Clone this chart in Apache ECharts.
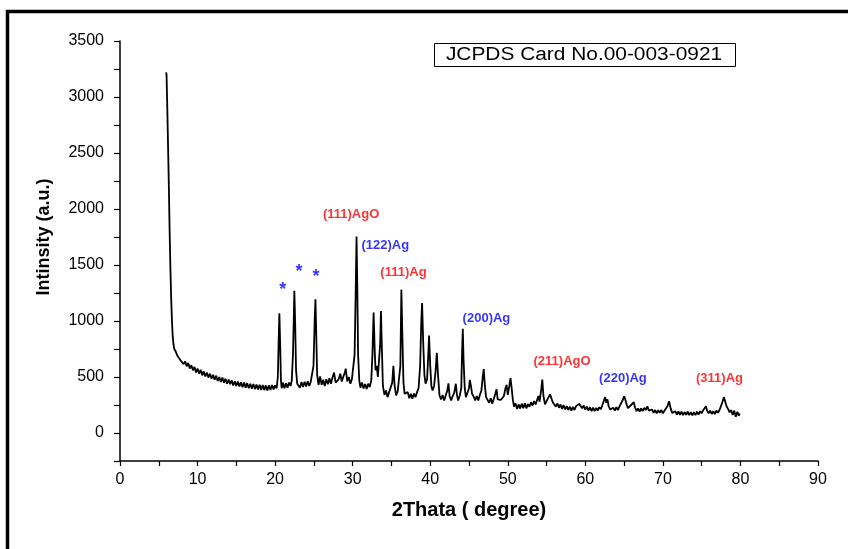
<!DOCTYPE html>
<html>
<head>
<meta charset="utf-8">
<script src="https://cdn.jsdelivr.net/npm/echarts@6/dist/echarts.min.js"></script>
<style>
  html, body { margin: 0; padding: 0; background: #ffffff; }
  #chart { width: 848px; height: 549px; }
</style>
</head>
<body>
<div id="chart"></div>
<script>
// ---- data: XRD scan (2theta in degrees, intensity in a.u.) ----
const scanLow = [
  [5.95,3220],[6.0,3200],[6.1,2900],[6.2,2550],[6.3,2200],[6.4,1800],[6.5,1470],[6.6,1200],
  [6.7,1000],[6.8,860],[6.9,790],[7.0,750],[7.2,725],[7.4,690],[7.6,690],[7.8,650],[8.0,665],
  [8.2,615],[8.4,640],[8.6,595],[8.8,625],[9.0,575],[9.2,605],[9.4,560],[9.6,590],[9.8,540],
  [10.0,575],[10.2,530],[10.4,565],[10.6,515],[10.8,550],[11.0,505],[11.2,540],[11.4,495],
  [11.6,530],[11.8,485],[12.0,520],[12.2,475],[12.4,512],[12.6,465],[12.8,500],[13.0,455],
  [13.2,495],[13.4,448],[13.6,485],[13.8,440],[14.0,478],[14.2,435],[14.4,470],[14.6,425],
  [14.8,462],[15.0,420],[15.2,460],[15.4,415],[15.6,452],[15.8,408],[16.0,450],[16.2,405],
  [16.4,445],[16.6,400],[16.8,440],[17.0,395],[17.2,438],[17.4,392],[17.6,432],[17.8,388],
  [18.0,430],[18.2,385],[18.4,428],[18.6,383],[18.8,425],[19.0,380],[19.2,425],[19.4,385],
  [19.6,428],[19.8,390],[20.0,425],[20.2,400]
];
const scanMid = [
  [20.35,500],[20.45,800],[20.55,1070],[20.65,800],[20.75,470],[20.85,400],[21.0,450],
  [21.2,400],[21.4,445],[21.6,405],[21.8,450],[22.0,420],[22.15,470],[22.3,700],[22.4,1000],
  [22.48,1270],[22.58,1000],[22.7,560],[22.85,440],[23.0,455],[23.2,405],[23.4,455],[23.6,410],
  [23.8,458],[24.0,415],[24.2,462],[24.4,420],[24.6,458],[24.8,470],[24.95,600],[25.1,1000],
  [25.2,1195],[25.3,900],[25.42,520],[25.6,430],[25.8,505],[26.0,430],[26.2,475],[26.4,420],
  [26.6,480],[26.8,435],[27.0,490],[27.2,440],[27.4,495],[27.6,540],[27.8,450],[28.0,465],
  [28.2,480],[28.4,530],[28.6,460],[28.8,505],[29.0,540],[29.1,575],[29.3,460],[29.5,500],
  [29.7,440],[29.9,480],[30.1,480],[30.25,700],[30.4,1300],[30.5,1755],[30.6,1300],[30.7,700],
  [30.85,470],[31.0,405],[31.2,450],[31.4,398],[31.6,438],[31.8,392],[32.0,440],[32.2,410],
  [32.4,470],[32.55,700],[32.7,1075],[32.85,720],[32.95,560],[33.1,600],[33.25,500],[33.4,500],
  [33.55,800],[33.65,1090],[33.75,800],[33.9,420],[34.1,340],[34.3,380],[34.5,320],[34.7,365],
  [34.9,380],[35.1,450],[35.25,600],[35.4,430],[35.6,335],[35.8,370],[36.0,380],[36.15,600],
  [36.28,1280],[36.4,900],[36.55,450],[36.7,350],[36.9,348],[37.1,365],[37.3,310],[37.5,350],
  [37.7,305],[37.9,352],[38.1,320],[38.3,365],[38.5,400],[38.7,600],[38.85,1000],[38.95,1160],
  [39.1,800],[39.25,520],[39.4,440],[39.6,480],[39.75,700],[39.85,870],[40.0,600],[40.15,420],
  [40.3,380],[40.5,420],[40.7,560],[40.85,715],[41.0,520],[41.2,335],[41.4,300],[41.6,340],
  [41.8,290],[42.0,335],[42.2,380],[42.35,444],[42.5,330],[42.7,290],[42.9,330],[43.1,360],
  [43.3,440],[43.45,340],[43.6,290],[43.8,330],[44.0,400],[44.1,700],[44.2,930],[44.3,650],
  [44.45,400],[44.6,320],[44.8,360],[45.0,400],[45.1,475],[45.25,420],[45.4,350],[45.6,325],
  [45.8,290],[46.0,330],[46.2,290],[46.4,340],[46.6,380],[46.8,520],[46.9,570],[47.05,420],
  [47.2,320],[47.4,305],[47.6,270],[47.8,310],[48.0,262],[48.2,305],[48.4,350],[48.55,390],
  [48.7,300],[48.9,285],[49.1,295],[49.3,280],[49.5,330],[49.7,400],[49.85,430],[50.0,340],
  [50.2,420],[50.35,490],[50.5,400],[50.65,300]
];
const scanHigh = [
  [50.8,235],[51.0,265],[51.2,215],[51.4,255],[51.6,218],[51.8,262],[52.0,222],[52.2,265],
  [52.4,220],[52.6,258],[52.8,235],[53.0,275],[53.2,245],[53.4,285],[53.6,255],[53.8,300],
  [53.95,330],[54.1,280],[54.3,380],[54.45,477],[54.6,330],[54.8,255],[55.0,285],[55.2,300],
  [55.45,345],[55.6,330],[55.8,275],[56.0,275],[56.2,235],[56.4,265],[56.6,225],[56.8,255],
  [57.0,215],[57.2,250],[57.4,210],[57.6,240],[57.8,205],[58.0,235],[58.2,200],[58.4,232],
  [58.6,205],[58.8,240],[59.0,230],[59.2,260],[59.4,250],[59.6,220],[59.8,245],[60.0,208],
  [60.2,236],[60.4,200],[60.6,230],[60.8,195],[61.0,226],[61.2,195],[61.4,224],[61.6,200],
  [61.8,230],[62.0,212],[62.2,250],[62.4,290],[62.55,320],[62.7,270],[62.85,300],[63.0,240],
  [63.2,210],[63.4,195],[63.6,225],[63.8,200],[64.0,230],[64.2,205],[64.4,238],[64.6,240],
  [64.8,290],[65.0,328],[65.15,300],[65.3,260],[65.5,222],[65.7,218],[65.9,250],[66.1,265],
  [66.25,275],[66.4,230],[66.6,195],[66.8,220],[67.0,190],[67.2,220],[67.4,195],[67.6,225],
  [67.8,205],[68.0,238],[68.2,200],[68.4,185],[68.6,210],[68.8,180],[69.0,205],[69.2,175],
  [69.4,203],[69.6,180],[69.8,205],[70.0,176],[70.2,198],[70.4,200],[70.6,240],[70.8,283],
  [71.0,220],[71.2,178],[71.4,168],[71.6,195],[71.8,165],[72.0,192],[72.2,163],[72.4,190],
  [72.6,160],[72.8,187],[73.0,163],[73.2,190],[73.4,160],[73.6,185],[73.8,158],[74.0,185],
  [74.2,160],[74.4,190],[74.6,165],[74.8,195],[75.0,176],[75.2,204],[75.4,220],[75.55,238],
  [75.7,200],[75.9,176],[76.1,200],[76.3,170],[76.5,195],[76.7,168],[76.9,200],[77.1,180],
  [77.3,205],[77.5,220],[77.7,280],[77.85,320],[78.0,290],[78.2,240],[78.4,215],[78.6,185],
  [78.8,205],[79.0,160],[79.2,200],[79.4,145],[79.6,190],[79.8,155],[79.9,175]
];

// peak annotations: text, anchor 2theta, anchor intensity, colour group
const peakLabelText  = ['(111)AgO','(122)Ag','(111)Ag','(200)Ag','(211)AgO','(220)Ag','(311)Ag'];
const peakLabelTheta = [29.8, 34.2, 36.55, 47.25, 57.0, 64.85, 77.3];
const peakLabelInt   = [1950, 1673, 1435, 1024, 641, 489, 489];
const peakLabelGroup = ['red','blue','red','blue','red','blue','red'];

// impurity markers (*)
const starTheta = [21.0, 23.08, 25.27];
const starInt   = [1274, 1435, 1390];

const xTicksLabelled = [0,10,20,30,40,50,60,70,80,90];
const yTicksLabelled = [0,500,1000,1500,2000,2500,3000,3500];
const legendText = 'JCPDS Card No.00-003-0921';

// ---- styles ----
const groupColor = { red: '#ff0000', blue: '#0000ff' };
const FONT = "'Liberation Sans', Arial, sans-serif";

const chart = echarts.init(document.getElementById('chart'), null, { renderer: 'canvas' });

const scan = scanLow.concat(scanMid, scanHigh);

const labelData = peakLabelText.map((t, i) => ({
  name: t,
  value: [peakLabelTheta[i], peakLabelInt[i]],
  label: { color: groupColor[peakLabelGroup[i]] }
}));
const starData = starTheta.map((t, i) => ({ name: '*', value: [t, starInt[i]] }));

chart.setOption({
  backgroundColor: '#ffffff',
  animation: false,
  grid: { left: 120, right: 30, top: 41, bottom: 88, containLabel: false },
  xAxis: {
    type: 'value', min: 0, max: 90, interval: 5,
    name: '2Thata ( degree)', nameLocation: 'middle', nameGap: 39,
    nameTextStyle: { fontFamily: FONT, fontSize: 20, fontWeight: 'bold', color: '#000' },
    axisLine: { show: true, onZero: false, lineStyle: { color: '#000', width: 1.5 } },
    axisTick: { show: true, inside: false, length: 5, lineStyle: { color: '#000', width: 1.2 } },
    axisLabel: {
      margin: 11, fontFamily: FONT, fontSize: 16, color: '#000',
      formatter: v => (xTicksLabelled.indexOf(v) >= 0 ? String(v) : '')
    },
    splitLine: { show: false }
  },
  yAxis: {
    type: 'value', min: -250, max: 3500, interval: 250,
    name: 'Intinsity (a.u.)', nameLocation: 'middle', nameGap: 67, nameRotate: 90,
    nameTextStyle: {
      fontFamily: FONT, fontSize: 18, fontWeight: 'bold', color: '#000',
      padding: [0, 0, 0, 28]
    },
    axisLine: { show: true, onZero: false, lineStyle: { color: '#000', width: 1.5 } },
    axisTick: { show: true, inside: false, length: 6, lineStyle: { color: '#000', width: 1.2 } },
    axisLabel: {
      margin: 16, fontFamily: FONT, fontSize: 16, color: '#000',
      formatter: v => (yTicksLabelled.indexOf(v) >= 0 ? String(v) : '')
    },
    splitLine: { show: false }
  },
  series: [
    {
      type: 'line', data: scan, showSymbol: false, symbol: 'none',
      lineStyle: { color: '#000', width: 1.8 }, z: 2
    },
    {
      type: 'scatter', data: labelData, symbol: 'circle', symbolSize: 1,
      itemStyle: { color: 'transparent' }, silent: true, z: 3,
      label: {
        show: true, position: 'inside', formatter: '{b}',
        fontFamily: FONT, fontSize: 13, fontWeight: 'bold'
      }
    },
    {
      type: 'scatter', data: starData, symbol: 'circle', symbolSize: 1,
      itemStyle: { color: 'transparent' }, silent: true, z: 3,
      label: {
        show: true, position: 'inside', formatter: '{b}',
        fontFamily: FONT, fontSize: 18, fontWeight: 'bold', color: groupColor.blue
      }
    }
  ],
  graphic: [
    {
      type: 'polyline', silent: true,
      shape: { points: [[7.5, 549], [7.5, 11.5], [848, 11.5]] },
      style: { stroke: '#000', lineWidth: 3.5, fill: null }
    },
    {
      type: 'rect', silent: true,
      shape: { x: 434.5, y: 43.5, width: 301, height: 23 },
      style: { stroke: '#000', lineWidth: 1, fill: '#fff' }
    },
    {
      type: 'text', silent: true, x: 584, y: 55.5, scaleX: 1.16, originX: 0, originY: 0,
      style: {
        text: legendText, fontFamily: FONT, fontSize: 18, fill: '#000',
        align: 'center', verticalAlign: 'middle'
      }
    }
  ]
});
</script>
</body>
</html>
